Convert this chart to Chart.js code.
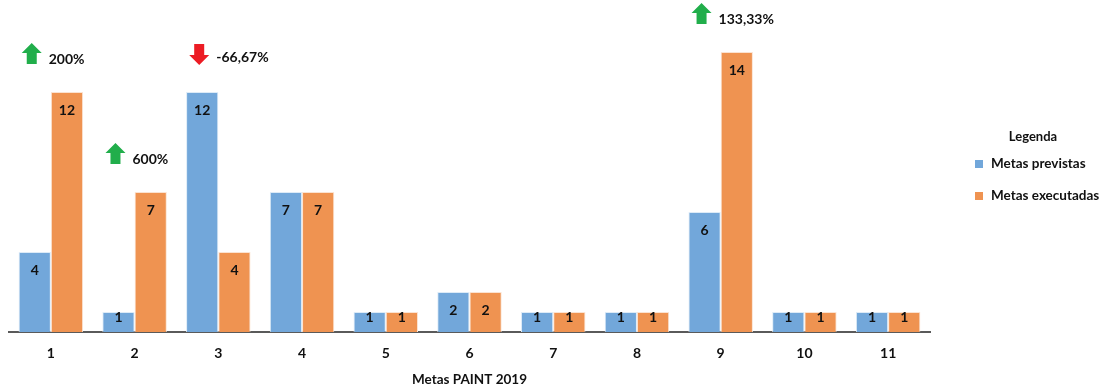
<!DOCTYPE html>
<html>
<head>
<meta charset="utf-8">
<script src="https://cdn.jsdelivr.net/npm/chart.js@4"></script>
<style>
  html, body { margin: 0; padding: 0; background: #fff; }
  #wrap { width: 1105px; height: 389px; position: relative; }
</style>
</head>
<body>
<div id="wrap"><canvas id="metasChart"></canvas></div>
<script>
const categories = ['1', '2', '3', '4', '5', '6', '7', '8', '9', '10', '11'];
const metasPrevistas = [4, 1, 12, 7, 1, 2, 1, 1, 6, 1, 1];
const metasExecutadas = [12, 7, 4, 7, 1, 2, 1, 1, 14, 1, 1];
// variação percentual mostrada com a seta (null = sem seta)
const variacao = ['200%', '600%', '-66,67%', null, null, null, null, null, '133,33%', null, null];

const FONT = 'Lato, "Open Sans", sans-serif';
const BLUE = '#72A7DA';
const ORANGE = '#EF9351';

// rótulos dentro das barras, perto do topo
const barLabels = {
  id: 'barLabels',
  afterDatasetsDraw(chart) {
    const { ctx } = chart;
    const base = chart.scales.y.getPixelForValue(0);
    ctx.save();
    ctx.font = `bold 14px ${FONT}`;
    ctx.fillStyle = '#111';
    ctx.textAlign = 'center';
    ctx.textBaseline = 'middle';
    chart.data.datasets.forEach((ds, i) => {
      chart.getDatasetMeta(i).data.forEach((bar, j) => {
        const y = Math.min(bar.y + 18, base - 15);
        ctx.fillText(ds.data[j], bar.x, y);
      });
    });
    ctx.restore();
  }
};

// setas verdes/vermelhas com a variação
const arrows = {
  id: 'arrows',
  afterDatasetsDraw(chart) {
    const { ctx } = chart;
    const yScale = chart.scales.y;
    const prev = chart.getDatasetMeta(0).data;
    ctx.save();
    variacao.forEach((txt, j) => {
      if (!txt) return;
      const top = Math.max(metasPrevistas[j], metasExecutadas[j]);
      const cy = yScale.getPixelForValue(top + 1.9);
      const cx = prev[j].x - 3;
      const up = !txt.startsWith('-');
      const s = up ? 1 : -1;
      ctx.fillStyle = up ? '#21AE4B' : '#EC1C24';
      ctx.beginPath();
      ctx.moveTo(cx, cy - 11 * s);
      ctx.lineTo(cx + 10, cy - 1 * s);
      ctx.lineTo(cx + 5, cy - 1 * s);
      ctx.lineTo(cx + 5, cy + 10 * s);
      ctx.lineTo(cx - 5, cy + 10 * s);
      ctx.lineTo(cx - 5, cy - 1 * s);
      ctx.lineTo(cx - 10, cy - 1 * s);
      ctx.closePath();
      ctx.fill();
      ctx.font = `bold 14px ${FONT}`;
      ctx.fillStyle = '#111';
      ctx.textAlign = 'left';
      ctx.textBaseline = 'middle';
      ctx.fillText(txt, cx + 17, cy + (up ? 5 : 3));
    });
    ctx.restore();
  }
};

// legenda à direita
const sideLegend = {
  id: 'sideLegend',
  afterDraw(chart) {
    const { ctx } = chart;
    ctx.save();
    ctx.font = `bold 13px ${FONT}`;
    ctx.fillStyle = '#111';
    ctx.textAlign = 'center';
    ctx.textBaseline = 'middle';
    ctx.fillText('Legenda', 1033, 137);
    ctx.font = `bold 13.5px ${FONT}`;
    ctx.textAlign = 'left';
    chart.data.datasets.forEach((ds, i) => {
      const y = 164 + i * 32;
      ctx.fillStyle = ds.backgroundColor;
      ctx.fillRect(975, y - 4, 8, 8);
      ctx.fillStyle = '#111';
      ctx.fillText(ds.label, 991, y);
    });
    ctx.restore();
  }
};

new Chart(document.getElementById('metasChart'), {
  type: 'bar',
  data: {
    labels: categories,
    datasets: [
      { label: 'Metas previstas', data: metasPrevistas, backgroundColor: BLUE, borderColor: '#DDEBF7', borderWidth: 1 },
      { label: 'Metas executadas', data: metasExecutadas, backgroundColor: ORANGE, borderColor: '#FBE3D2', borderWidth: 1 }
    ]
  },
  options: {
    responsive: true,
    maintainAspectRatio: false,
    animation: false,
    layout: { padding: { left: 9, right: 175, top: 12, bottom: 0 } },
    datasets: { bar: { categoryPercentage: 0.77, barPercentage: 1 } },
    plugins: {
      legend: { display: false },
      tooltip: { enabled: false }
    },
    scales: {
      x: {
        grid: { display: false, drawTicks: false },
        border: { display: true, color: '#5a5a5a', width: 2 },
        ticks: { color: '#111', padding: 13, font: { family: FONT, size: 14, weight: 'bold' } },
        title: {
          display: true, text: 'Metas PAINT 2019', color: '#111',
          font: { family: FONT, size: 13.5, weight: 'bold' },
          padding: { top: 0, bottom: 1 }
        },
        afterFit(scale) { scale.height = 57; }
      },
      y: { display: false, min: 0, max: 16 }
    }
  },
  plugins: [barLabels, arrows, sideLegend]
});
</script>
</body>
</html>
